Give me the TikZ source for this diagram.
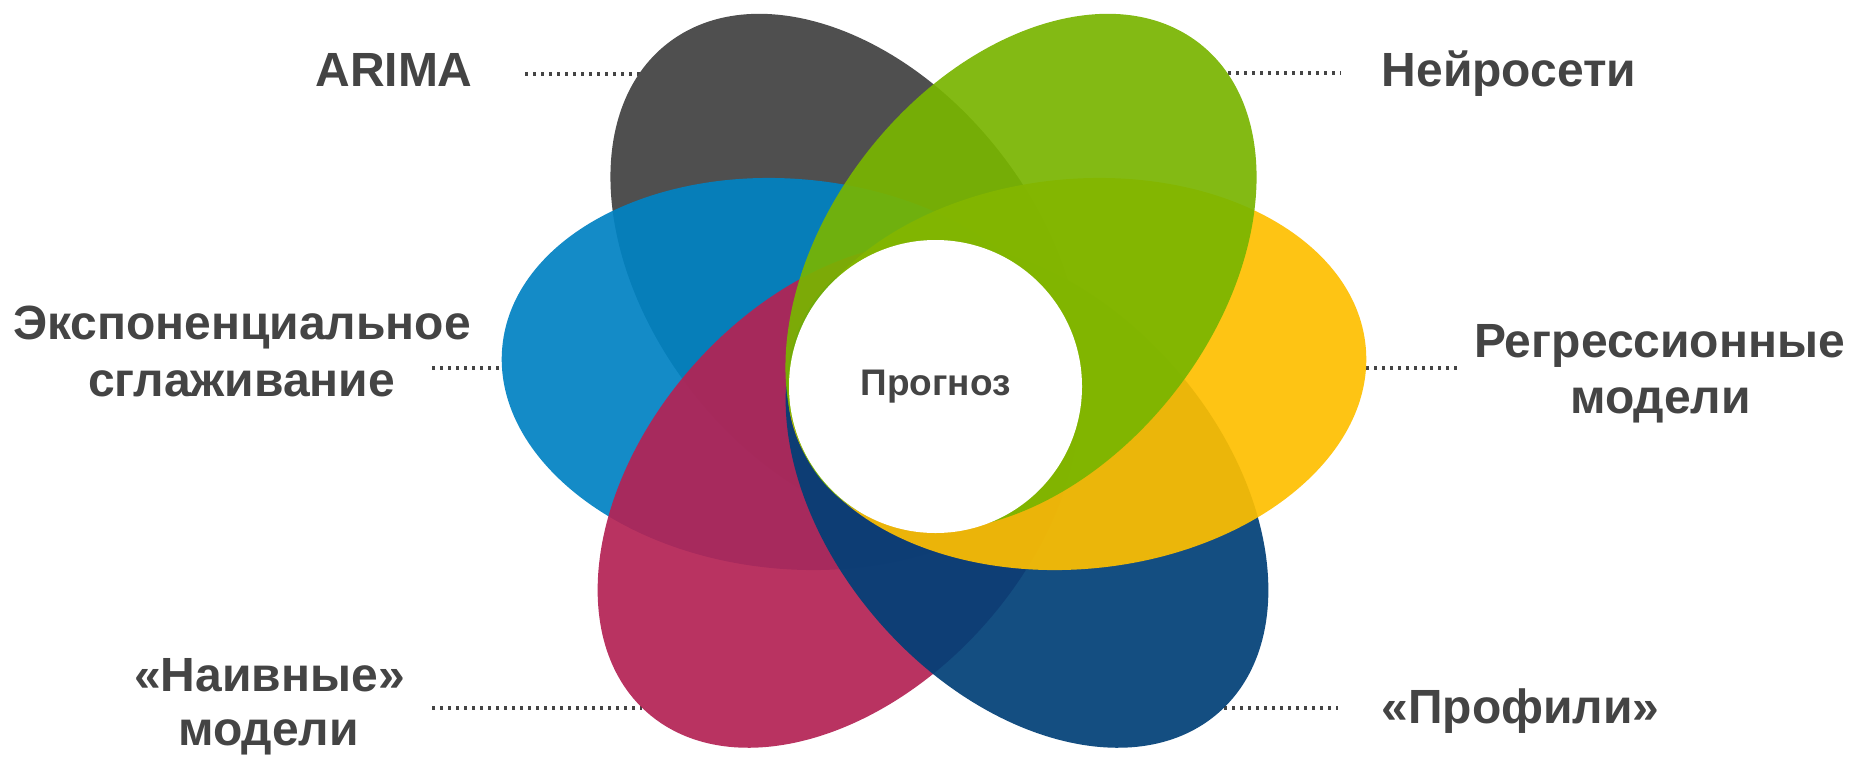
\documentclass[tikz,border=0pt]{standalone}
\usepackage{fontspec}
\setmainfont{Liberation Sans}
\definecolor{ink}{HTML}{444444}
\definecolor{petalGray}{HTML}{4F4F4F}
\definecolor{petalBlue}{HTML}{0082C3}
\definecolor{petalPink}{HTML}{B42254}
\definecolor{petalNavy}{HTML}{003F77}
\definecolor{petalYellow}{HTML}{FEBF00}
\definecolor{petalGreen}{HTML}{79B500}
\begin{document}
\begin{tikzpicture}[x=1pt,y=-1pt,
  lbl/.style={font=\fontsize{48}{57}\selectfont\bfseries, text=ink, inner sep=0pt, anchor=base},
  leader/.style={draw=ink, line width=3.2pt, dash pattern=on 3.3pt off 4.7pt},
  petal/.style={fill opacity=0.92},
]
\useasboundingbox (0,0) rectangle (1851,756);
\fill[white] (0,0) rectangle (1851,756);

% labels
\node[lbl] (arima)  at (394,86)    {ARIMA};
\node[lbl] (neuro)  at (1509,86)   {Нейросети};
\node[lbl] (expo1)  at (242,339)   {Экспоненциальное};
\node[lbl] (expo2)  at (241.5,396) {сглаживание};
\node[lbl] (regr1)  at (1659.5,357){Регрессионные};
\node[lbl] (regr2)  at (1660.5,413){модели};
\node[lbl] (naive1) at (269.5,691) {«Наивные»};
\node[lbl] (naive2) at (268.5,745) {модели};
\node[lbl] (prof)   at (1520.5,723){«Профили»};

% dotted leaders, ending at the petal edges
\coordinate (arimaL)  at (525,74);   \coordinate (arimaR)  at (645,74);
\coordinate (neuroL)  at (1228,73);  \coordinate (neuroR)  at (1341,73);
\coordinate (expoL)   at (432,368);  \coordinate (expoR)   at (502,368);
\coordinate (regrL)   at (1366,368); \coordinate (regrR)   at (1459,368);
\coordinate (naiveL)  at (432,708);  \coordinate (naiveR)  at (642,708);
\coordinate (profL)   at (1224,708); \coordinate (profR)   at (1338,708);
\draw[leader] (arimaL) -- (arimaR);
\draw[leader] (neuroL) -- (neuroR);
\draw[leader] (expoL) -- (expoR);
\draw[leader] (regrL) -- (regrR);
\draw[leader] (naiveL) -- (naiveR);
\draw[leader] (profL) -- (profR);

% petals, bottom to top
\fill[petalGray, rotate around={128:(846,272)}] (846,272) ellipse [x radius=290pt, y radius=195pt];
\fill[petalBlue, petal, rotate around={174.6:(791,374)}] (791,374) ellipse [x radius=290pt, y radius=195pt];
\fill[petalPink, petal, rotate around={228.5:(839,495)}] (839,495) ellipse [x radius=290pt, y radius=195pt];
\fill[petalNavy, petal, rotate around={311.5:(1027,495)}] (1027,495) ellipse [x radius=290pt, y radius=195pt];
\fill[petalYellow, petal, rotate around={5.4:(1077,374)}] (1077,374) ellipse [x radius=290pt, y radius=195pt];
\fill[petalGreen, petal, rotate around={52:(1021,272)}] (1021,272) ellipse [x radius=290pt, y radius=195pt];

% centre
\node[circle, fill=white, minimum size=293pt, inner sep=0pt,
      font=\fontsize{37}{44}\selectfont\bfseries, text=ink] (core) at (935.5,386.5) {Прогноз};
\end{tikzpicture}
\end{document}
